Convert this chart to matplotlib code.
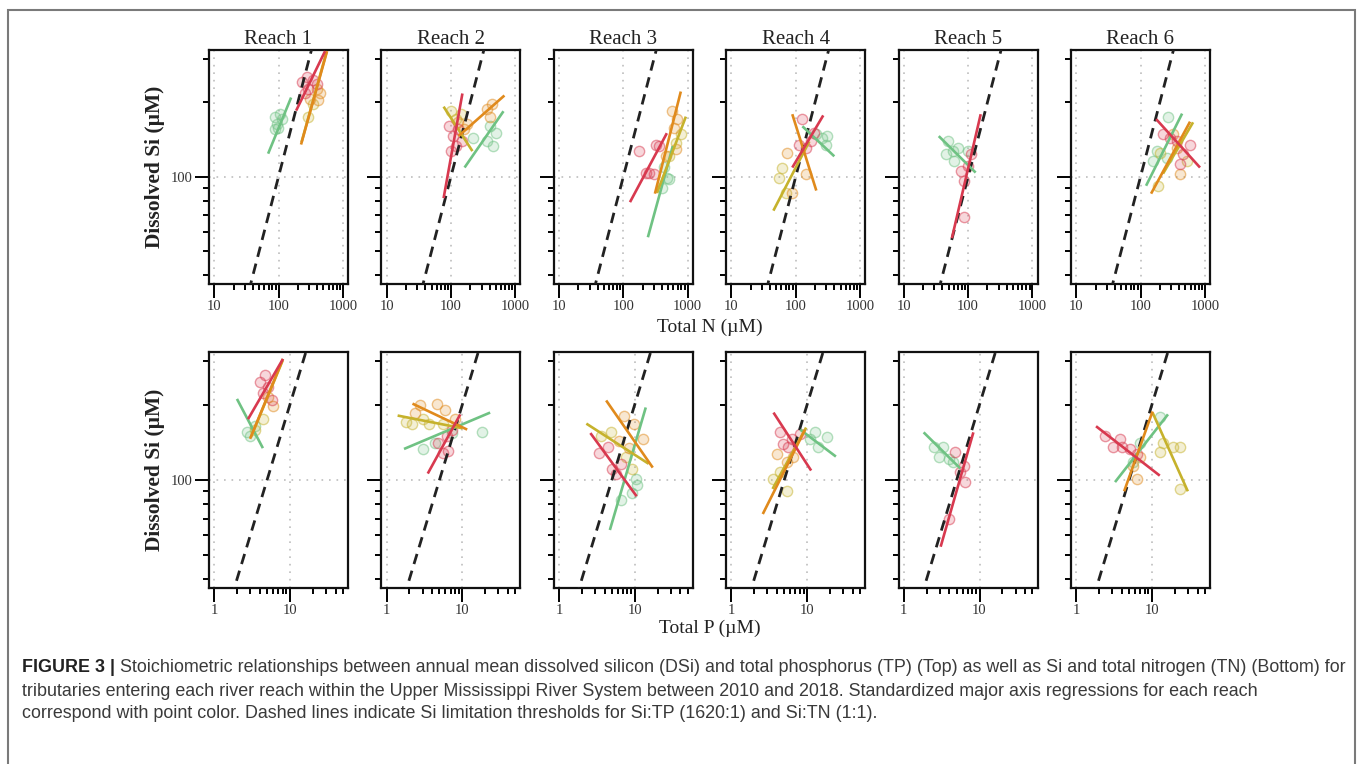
import numpy as np
import matplotlib
matplotlib.use("Agg")
import matplotlib.pyplot as plt
from matplotlib.patches import Rectangle

plt.rcParams['font.family'] = ['Liberation Serif', 'DejaVu Serif']

reaches = ["Reach 1", "Reach 2", "Reach 3", "Reach 4", "Reach 5", "Reach 6"]

# colours of the tributary groups
col_green = '#6fc283'
col_yellow = '#c6b22c'
col_orange = '#e08a1c'
col_red = '#d8394f'

# ---- top row: Total N vs dissolved Si (uM), one sublist per reach
tn_green_x = [[88, 106, 95, 114, 88, 99], [412, 494, 458, 358, 224], [398, 475, 428, 510],
              [310, 259, 298, 209], [48, 58, 60, 45, 69, 99], [268, 181, 157, 259]]
tn_green_y = [[175, 179, 163, 171, 156, 157], [160, 150, 133, 139, 143], [90, 99, 110, 98],
              [146, 143, 135, 149], [139, 127, 116, 124, 131, 127], [175, 127, 116, 119]]
tn_yellow_x = [[288, 344], [99, 118, 141], [783, 656, 510], [62, 56, 71], [], [202, 527, 188]]
tn_yellow_y = [[175, 196], [184, 171, 180], [149, 137, 121], [109, 99, 86], [], [125, 116, 92]]
tn_orange_x = [[310, 412, 443, 398], [127, 157, 175, 370, 443, 412], [569, 610, 679, 656, 458],
               [74, 88, 146], [], [321, 370, 412]]
tn_orange_y = [[207, 205, 217, 227], [167, 156, 163, 187, 196, 175], [184, 157, 171, 129, 121],
               [125, 86, 103], [], [149, 131, 103]]
tn_red_x = [[232, 278, 344, 288, 259, 398], [92, 106, 118, 100, 131, 151], [175, 321, 357, 250, 298, 224],
            [127, 114, 146, 175, 194], [77, 86, 99, 110, 86], [224, 370, 589, 458, 412, 288]]
tn_red_y = [[242, 254, 247, 227, 217, 238], [160, 146, 133, 127, 156, 139], [127, 135, 133, 104, 103, 104],
            [171, 135, 131, 139, 150], [106, 96, 111, 124, 69], [149, 139, 135, 124, 113, 143]]

# SMA regression segments (x1, x2, y1, y2)
tn_green_line = [(69, 157, 124, 209), (163, 656, 109, 184), (241, 589, 57, 133),
                 (127, 398, 160, 121), (35, 131, 146, 104), (122, 443, 92, 180)]
tn_yellow_line = [(228, 555, 138, 318), (77, 216, 192, 127), (333, 938, 86, 175),
                  (45, 163, 73, 139), None, (224, 656, 103, 166)]
tn_orange_line = [(224, 569, 135, 322), (131, 679, 146, 213), (310, 783, 85.5, 221),
                  (88.5, 209, 179, 88), None, (146, 589, 85.5, 167)]
tn_red_line = [(188, 530, 185, 322), (77, 151, 82, 217), (127, 475, 79, 150),
               (88.5, 268, 109, 177), (56, 157, 56.5, 179), (175, 841, 171, 109)]

# ---- bottom row: Total P vs dissolved Si (uM)
tp_green_x = [[2.7, 3.0, 3.5], [3.0, 4.4, 18.4, 7.4], [10.3, 9.1, 6.5, 10.6],
              [11, 14, 18.4, 12.7], [2.5, 3.3, 2.9, 3.9, 4.5], [12.7, 7.0, 5.6]]
tp_green_y = [[155, 150, 164], [133, 140, 156, 154], [101, 89, 83, 95],
              [146, 136, 148, 155], [136, 136, 124, 121, 118], [178, 141, 118]]
tp_yellow_x = [[4.4, 3.5], [1.8, 2.2, 3.0, 3.6, 5.5], [3.6, 4.8, 7.6, 9.1], [3.5, 5.5, 4.4], [],
               [14, 18.9, 23.3, 12.7, 23.3]]
tp_yellow_y = [[175, 159], [171, 167, 175, 168, 167], [150, 156, 124, 111], [101, 90, 108], [],
               [141, 136, 136, 129, 92]]
tp_orange_x = [[5.1, 6.0], [2.8, 4.7, 6.0, 8.1, 2.4], [7.2, 9.7, 13, 6.2, 8.3], [4.0, 5.5, 6.5], [],
               [5.6, 7.0, 6.3]]
tp_orange_y = [[215, 197], [200, 202, 191, 176, 185], [180, 168, 146, 143, 134], [127, 118, 123], [],
               [114, 124, 101]]
tp_red_x = [[4.7, 4.0, 5.1, 4.4, 5.8], [5.5, 6.5, 4.8, 6.3, 7.4], [3.4, 5.0, 5.6, 6.5, 4.5],
            [4.4, 5.6, 8.1, 6.3, 4.8], [4.8, 6.2, 6.5, 3.9, 5.6], [2.4, 3.8, 5.1, 6.3, 4.0, 3.1]]
tp_red_y = [[264, 247, 236, 223, 209], [128, 130, 140, 150, 159], [128, 111, 106, 116, 136],
            [155, 136, 152, 146, 139], [129, 114, 98, 70, 108], [150, 146, 133, 127, 135, 136]]

tp_green_line = [(2.0, 4.4, 211, 134), (1.7, 23.3, 133, 186), (4.7, 14, 63, 195),
                 (8.1, 24, 159, 124), (1.83, 5.6, 155, 111), (3.26, 16.3, 98, 183)]
tp_yellow_line = [(3.05, 8.0, 148, 300), (1.4, 10, 181, 161), (2.3, 15.3, 168, 116),
                  (3.5, 9.7, 92, 162), None, (10.2, 29.8, 186, 90)]
tp_orange_line = [(2.98, 8.1, 146, 305), (2.2, 11.6, 202, 159), (4.2, 17.3, 208, 112),
                  (2.6, 9.4, 73, 159), None, (4.3, 10.2, 90, 188)]
tp_red_line = [(2.8, 8.1, 175, 305), (3.5, 9.4, 106, 183), (2.6, 10.6, 154, 86),
               (3.6, 11.3, 186, 109), (3.07, 8.3, 54, 155), (1.83, 12.7, 164, 104)]

# Si limitation thresholds (Si = ratio * nutrient)
ratio_tn = 1
ratio_tp = 20

W, H = 1360, 764


def fx(px):
    return px / W


def fy(py):
    return 1 - py / H


def rlim(lo, hi):
    # R style 4 % extension on a log axis
    a, b = np.log10(lo), np.log10(hi)
    d = 0.04 * (b - a)
    return 10 ** (a - d), 10 ** (b + d)


fig = plt.figure(figsize=(W / 100, H / 100), dpi=100)

rows = [
    dict(top=50, bot=284, xlim=(10, 1000), xmaj=[10, 100, 1000],
         xmin=[20, 30, 40, 50, 60, 70, 80, 90, 200, 300, 400, 500, 600, 700, 800, 900],
         ratio=ratio_tn,
         pts=[(tn_green_x, tn_green_y, col_green), (tn_yellow_x, tn_yellow_y, col_yellow),
              (tn_orange_x, tn_orange_y, col_orange), (tn_red_x, tn_red_y, col_red)],
         lines=[(tn_green_line, col_green), (tn_yellow_line, col_yellow),
                (tn_orange_line, col_orange), (tn_red_line, col_red)]),
    dict(top=352, bot=588, xlim=(1, 50), xmaj=[1, 10],
         xmin=[2, 3, 4, 5, 6, 7, 8, 9, 20, 30, 40, 50],
         ratio=ratio_tp,
         pts=[(tp_green_x, tp_green_y, col_green), (tp_yellow_x, tp_yellow_y, col_yellow),
              (tp_orange_x, tp_orange_y, col_orange), (tp_red_x, tp_red_y, col_red)],
         lines=[(tp_green_line, col_green), (tp_yellow_line, col_yellow),
                (tp_orange_line, col_orange), (tp_red_line, col_red)]),
]

for r, row in enumerate(rows):
    for k in range(6):
        left = 209 + 172.4 * k
        ax = fig.add_axes([fx(left), fy(row['bot']), 139 / W, (row['bot'] - row['top']) / H])
        ax.set_xscale('log')
        ax.set_yscale('log')
        ax.set_xlim(rlim(*row['xlim']))
        ax.set_ylim(rlim(40, 300))

        for xs, ys, c in row['pts']:
            if len(xs[k]):
                ax.scatter(xs[k], ys[k], s=55, facecolor=matplotlib.colors.to_rgba(c, 0.2),
                           edgecolor=matplotlib.colors.to_rgba(c, 0.5), linewidth=1.0, zorder=3)

        tx = np.array([0.1, 5000.0])
        ax.plot(tx, row['ratio'] * tx, color='#222222', lw=2.0, ls=(0, (3.8, 2.5)), zorder=4)

        for seg, c in row['lines']:
            if seg[k] is not None:
                x1, x2, y1, y2 = seg[k]
                ax.plot([x1, x2], [y1, y2], color=c, lw=1.9, solid_capstyle='butt', zorder=5)

        ax.set_xticks(row['xmaj'])
        ax.set_xticklabels([str(v) for v in row['xmaj']])
        ax.set_xticks(row['xmin'], minor=True)
        ax.set_xticklabels([], minor=True)
        ax.set_yticks([100])
        ax.set_yticklabels(['100'] if k == 0 else [''])
        ax.set_yticks([40, 50, 60, 70, 80, 90, 200, 300], minor=True)
        ax.set_yticklabels([], minor=True)

        ax.grid(True, which='major', color='#bdbdbd', lw=1.2, ls=(0, (1, 3.5)))
        ax.set_axisbelow(True)
        ax.tick_params(which='major', direction='out', length=10, width=1.4, pad=1.5,
                       labelsize=10.5, labelcolor='#333333')
        ax.tick_params(which='minor', direction='out', length=4.3, width=1.4)
        for sp in ax.spines.values():
            sp.set_linewidth(1.6)
            sp.set_color('#111111')

        if r == 0:
            fig.text(fx(left + 69.5), fy(40), reaches[k], ha='center', va='center',
                     fontsize=15, color='#222222')

fig.text(fx(155), fy(167), 'Dissolved Si (µM)', rotation=90, ha='center', va='center',
         fontsize=15.5, fontweight='bold', color='#222222')
fig.text(fx(155), fy(470), 'Dissolved Si (µM)', rotation=90, ha='center', va='center',
         fontsize=15.5, fontweight='bold', color='#222222')
fig.text(fx(710), fy(327), 'Total N (µM)', ha='center', va='center', fontsize=14, color='#222222')
fig.text(fx(710), fy(628), 'Total P (µM)', ha='center', va='center', fontsize=14, color='#222222')

# frame round the figure
fig.patches.append(Rectangle((fx(8), -0.02), fx(1355) - fx(8), fy(10) + 0.02,
                             transform=fig.transFigure, fill=False,
                             edgecolor='#7a7a7a', lw=1.5))

# caption
cap_font = ['Liberation Sans Narrow', 'Liberation Sans', 'DejaVu Sans']
cap_lines = [
    " Stoichiometric relationships between annual mean dissolved silicon (DSi) and total "
    "phosphorus (TP) (Top) as well as Si and total nitrogen (TN) (Bottom) for",
    "tributaries entering each river reach within the Upper Mississippi River System between "
    "2010 and 2018. Standardized major axis regressions for each reach",
    "correspond with point color. Dashed lines indicate Si limitation thresholds for Si:TP "
    "(1620:1) and Si:TN (1:1).",
]
renderer = fig.canvas.get_renderer()

# size the caption so that the first line runs from x=22 to x=1342
cap_size = 13
head = fig.text(fx(22), fy(667), 'FIGURE 3 |', ha='left', va='center', fontsize=cap_size,
                fontweight='bold', family=cap_font, color='#222222')
first = fig.text(0, fy(667), cap_lines[0], ha='left', va='center', fontsize=cap_size,
                 family=cap_font, color='#3a3a3a')
total = head.get_window_extent(renderer).width + first.get_window_extent(renderer).width
cap_size = cap_size * 1320 / total
head.set_fontsize(cap_size)
first.set_fontsize(cap_size)
first.set_x(head.get_window_extent(renderer).x1 / W)
fig.text(fx(22), fy(691), cap_lines[1], ha='left', va='center', fontsize=cap_size,
         family=cap_font, color='#3a3a3a')
fig.text(fx(22), fy(714), cap_lines[2], ha='left', va='center', fontsize=cap_size,
         family=cap_font, color='#3a3a3a')

fig.savefig('out.png', dpi=100)
